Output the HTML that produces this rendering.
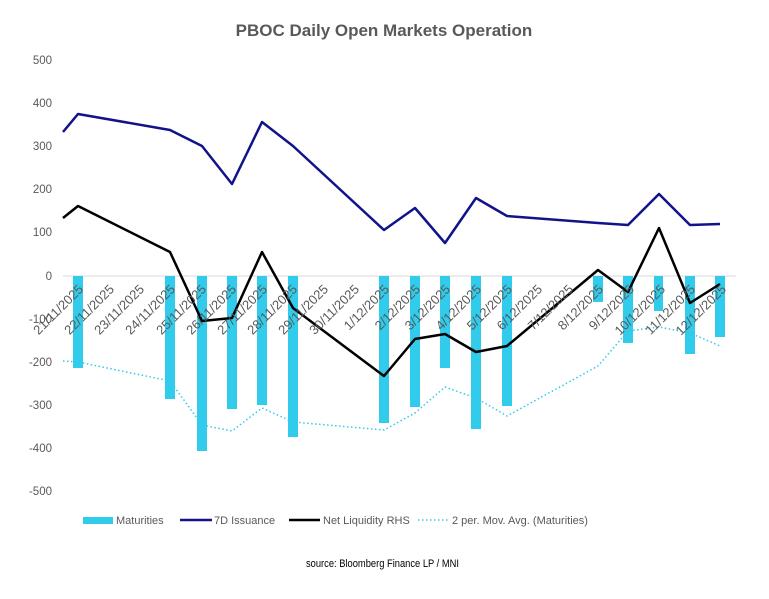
<!DOCTYPE html>
<html><head><meta charset="utf-8"><style>
body{margin:0;background:#fff}
svg{display:block;font-family:"Liberation Sans",sans-serif}
</style></head><body>
<svg width="769" height="599" viewBox="0 0 769 599">
<rect width="769" height="599" fill="#fff"/>
<text x="384" y="36" text-anchor="middle" font-size="17" font-weight="bold" fill="#595959">PBOC Daily Open Markets Operation</text>
<g font-size="11.5" fill="#595959" text-anchor="end">
<text x="52" y="64">500</text><text x="52" y="107">400</text><text x="52" y="150">300</text><text x="52" y="193">200</text><text x="52" y="236">100</text><text x="52" y="280">0</text><text x="52" y="323">-100</text><text x="52" y="366">-200</text><text x="52" y="409">-300</text><text x="52" y="452">-400</text><text x="52" y="495">-500</text>
</g>
<line x1="63" y1="276" x2="736" y2="276" stroke="#d9d9d9" stroke-width="1"/>
<g fill="#31cbeb">
<rect x="73" y="276" width="10" height="92"/>
<rect x="165" y="276" width="10" height="123"/>
<rect x="197" y="276" width="10" height="175"/>
<rect x="227" y="276" width="10" height="133"/>
<rect x="257" y="276" width="10" height="129"/>
<rect x="288" y="276" width="10" height="161"/>
<rect x="379" y="276" width="10" height="147"/>
<rect x="410" y="276" width="10" height="131"/>
<rect x="440" y="276" width="10" height="92"/>
<rect x="471" y="276" width="10" height="153"/>
<rect x="502" y="276" width="10" height="130"/>
<rect x="593" y="276" width="10" height="26"/>
<rect x="623" y="276" width="10" height="67"/>
<rect x="654" y="276" width="9" height="35"/>
<rect x="685" y="276" width="10" height="78"/>
<rect x="715" y="276" width="10" height="61"/>
</g>
<polyline fill="none" stroke="#31cbeb" stroke-width="1.5" stroke-dasharray="1.5,2.5" points="63,361 78,362 170,381 202,425 232,431 262,408 293,422 384,430 415,413 445,387 476,398 507,416 598,366 628,331 659,327 690,333 720,346"/>
<polyline fill="none" stroke="#12128a" stroke-width="2.5" stroke-linejoin="round" points="63,132 78,114 170,130 202,146 232,184 262,122 293,146 384,230 415,208 445,243 476,198 507,216 598,223 628,225 659,194 690,225 720,224"/>
<polyline fill="none" stroke="#000" stroke-width="2.5" stroke-linejoin="round" points="63,218 78,206 170,252 202,321 232,318 262,252 293,308 384,376 415,339 445,334 476,352 507,346 598,270 628,292 659,228 690,303 720,284"/>
<g font-size="13" fill="#595959" text-anchor="end">
<text transform="translate(84,290) rotate(-45)">21/11/2025</text>
<text transform="translate(115,290) rotate(-45)">22/11/2025</text>
<text transform="translate(145,290) rotate(-45)">23/11/2025</text>
<text transform="translate(176,290) rotate(-45)">24/11/2025</text>
<text transform="translate(207,290) rotate(-45)">25/11/2025</text>
<text transform="translate(237,290) rotate(-45)">26/11/2025</text>
<text transform="translate(268,290) rotate(-45)">27/11/2025</text>
<text transform="translate(298,290) rotate(-45)">28/11/2025</text>
<text transform="translate(329,290) rotate(-45)">29/11/2025</text>
<text transform="translate(360,290) rotate(-45)">30/11/2025</text>
<text transform="translate(390,290) rotate(-45)">1/12/2025</text>
<text transform="translate(421,290) rotate(-45)">2/12/2025</text>
<text transform="translate(451,290) rotate(-45)">3/12/2025</text>
<text transform="translate(482,290) rotate(-45)">4/12/2025</text>
<text transform="translate(513,290) rotate(-45)">5/12/2025</text>
<text transform="translate(543,290) rotate(-45)">6/12/2025</text>
<text transform="translate(574,290) rotate(-45)">7/12/2025</text>
<text transform="translate(604,290) rotate(-45)">8/12/2025</text>
<text transform="translate(635,290) rotate(-45)">9/12/2025</text>
<text transform="translate(666,290) rotate(-45)">10/12/2025</text>
<text transform="translate(696,290) rotate(-45)">11/12/2025</text>
<text transform="translate(727,290) rotate(-45)">12/12/2025</text>
</g>
<g font-size="11" fill="#595959">
<rect x="83" y="517" width="30" height="7" fill="#31cbeb"/>
<text x="116" y="524">Maturities</text>
<line x1="180" y1="520" x2="212" y2="520" stroke="#12128a" stroke-width="2.5"/>
<text x="214" y="524">7D Issuance</text>
<line x1="289" y1="520" x2="320" y2="520" stroke="#000" stroke-width="2.5"/>
<text x="323" y="524">Net Liquidity RHS</text>
<line x1="418" y1="520" x2="448" y2="520" stroke="#31cbeb" stroke-width="1.5" stroke-dasharray="1.5,2.5"/>
<text x="452" y="524">2 per. Mov. Avg. (Maturities)</text>
</g>
<text x="306" y="567" font-size="11" fill="#000" textLength="153" lengthAdjust="spacingAndGlyphs">source:  Bloomberg Finance LP / MNI</text>
</svg>
</body></html>
